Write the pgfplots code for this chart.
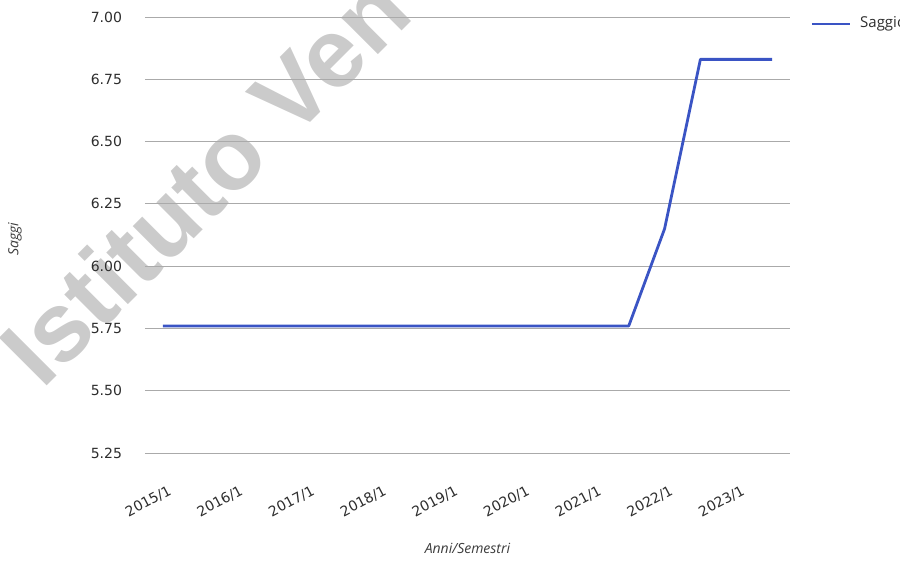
\documentclass[border=0pt]{standalone}
\usepackage{pgfplots}
\pgfplotsset{compat=1.18}
\usepackage{fontspec}
\setmainfont{DejaVu Sans}
\newfontfamily\titlefont{Open Sans}
\newfontfamily\markfont{Liberation Sans}

\definecolor{seriesblue}{RGB}{58,84,196}
\definecolor{gridgray}{RGB}{170,170,170}
\definecolor{ticktext}{RGB}{45,45,45}
\definecolor{titletext}{RGB}{60,60,60}
\definecolor{stampgray}{RGB}{203,203,203}

% semester index: 0 = 2015/1, 1 = 2015/2, ...
\pgfplotstableread{
idx saggio
0  5.76
1  5.76
2  5.76
3  5.76
4  5.76
5  5.76
6  5.76
7  5.76
8  5.76
9  5.76
10 5.76
11 5.76
12 5.76
13 5.76
14 6.15
15 6.83
16 6.83
17 6.83
}\saggitable

\begin{document}
\begin{tikzpicture}
\useasboundingbox (-72.5pt,-55pt) rectangle (377.5pt,226.5pt);
% watermark behind the plot
\node[anchor=base west, rotate=45, inner sep=0pt, text=stampgray,
      font=\markfont\bfseries\fontsize{49}{49}\selectfont]
  at (-51.5pt,31pt) {Istituto Ven};
\begin{axis}[
  at={(0,0)}, anchor=south west,
  scale only axis,
  width=322.5pt, height=218pt,
  xmin=-0.5, xmax=17.5,
  ymin=5.25, ymax=7.0,
  axis line style={draw=none},
  major tick length=0pt,
  xtick={0,2,4,6,8,10,12,14,16},
  xticklabels={2015/1,2016/1,2017/1,2018/1,2019/1,2020/1,2021/1,2022/1,2023/1},
  ytick={5.25,5.50,5.75,6.00,6.25,6.50,6.75,7.00},
  yticklabel style={/pgf/number format/fixed,/pgf/number format/precision=2,
    /pgf/number format/fixed zerofill, /pgf/number format/assume math mode=true,
    font=\fontsize{7}{8}\selectfont, text=ticktext, anchor=east, xshift=-8pt},
  xticklabel style={font=\fontsize{7}{8}\selectfont, text=ticktext,
    rotate=28, anchor=north east, yshift=-11.5pt, xshift=-2pt},
  ymajorgrids,
  grid style={gridgray, line width=0.5pt},
  xlabel={Anni/Semestri},
  ylabel={Saggi},
  xlabel style={font=\titlefont\itshape\fontsize{7}{8}\selectfont, text=titletext,
    at={(0.5,-0.218)}, anchor=center},
  ylabel style={font=\titlefont\itshape\fontsize{7}{8}\selectfont, text=titletext,
    at={(-0.2016,0.49)}, anchor=center},
  legend style={at={(1.031,0.984)}, anchor=west, draw=none, fill=none,
    inner sep=0pt, nodes={inner sep=0pt, text=ticktext},
    font=\titlefont\fontsize{7.5}{9}\selectfont, column sep=0pt},
  legend image code/.code={\draw[#1] (0pt,0pt) -- (19pt,0pt);},
  legend cell align=left,
  clip=false,
]
\addplot[seriesblue, line width=1.4pt, line join=round, no markers]
  table[x=idx, y=saggio] {\saggitable};
\addlegendentry{\hspace{4.5pt}Saggio}
\end{axis}
\end{tikzpicture}
\end{document}
